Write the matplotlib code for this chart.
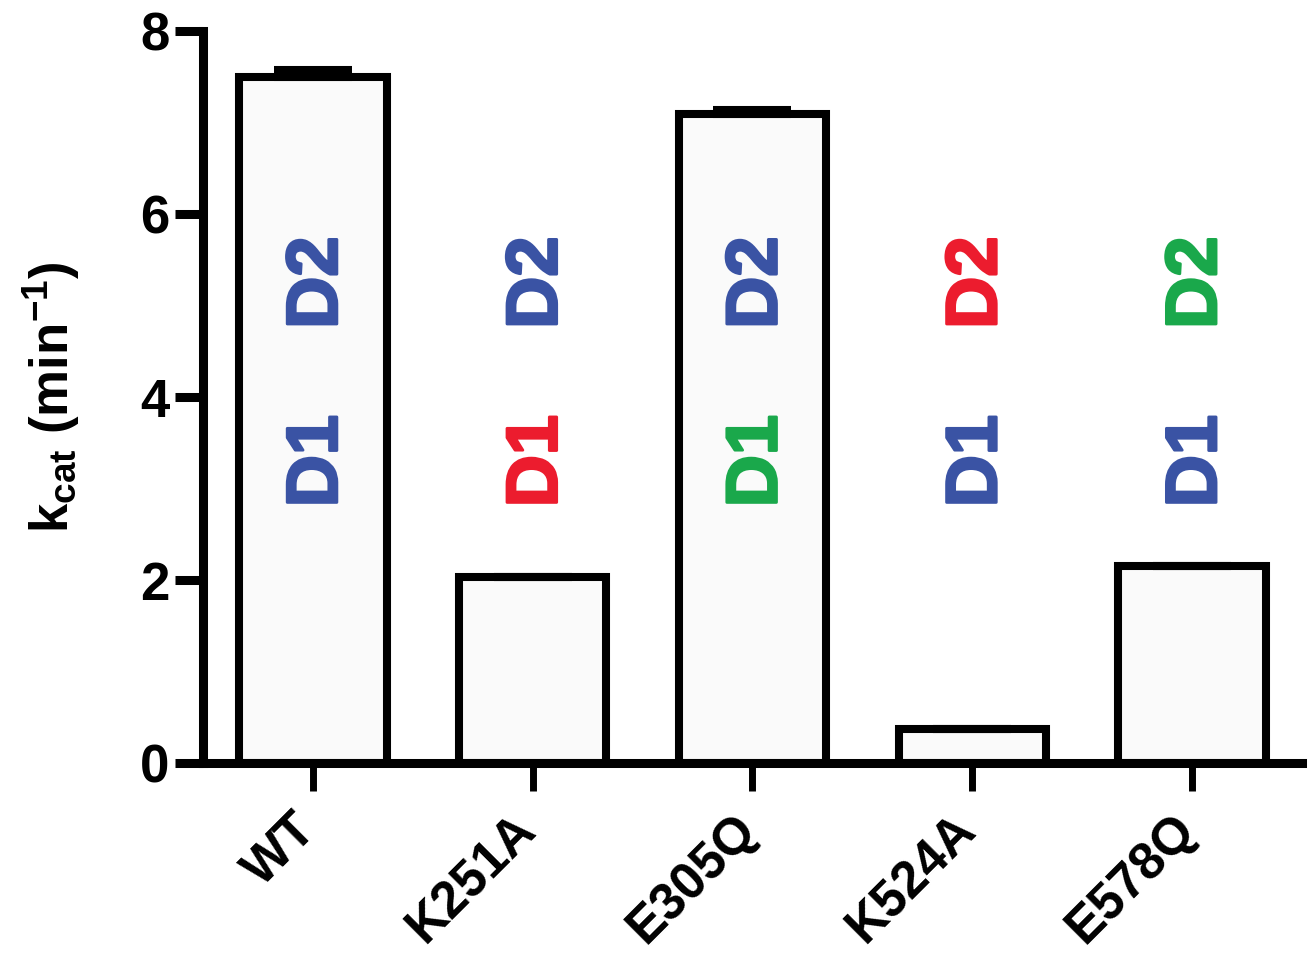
import matplotlib
matplotlib.use('Agg')
import matplotlib.pyplot as plt
import matplotlib.patheffects as pe
import matplotlib.transforms as mtransforms
import numpy as np

plt.rcParams['font.family'] = ['Liberation Sans', 'DejaVu Sans']
plt.rcParams['font.weight'] = 'bold'
plt.rcParams['mathtext.fontset'] = 'custom'
plt.rcParams['mathtext.rm'] = 'Liberation Sans:bold'
plt.rcParams['mathtext.bf'] = 'Liberation Sans:bold'
plt.rcParams['mathtext.it'] = 'Liberation Sans:bold'

# data
mutants = ['WT', 'K251A', 'E305Q', 'K524A', 'E578Q']
kcat = [7.50, 2.03, 7.09, 0.37, 2.15]
kcat_err = [0.07, 0.0, 0.05, 0.0, 0.0]

# D1 / D2 domain label colours per mutant
blue = '#3a53a4'
red = '#ec1c2e'
green = '#1aa84b'
d1_colors = [blue, red, green, blue, blue]
d2_colors = [blue, blue, blue, red, green]

fig = plt.figure(figsize=(13.13, 9.57), dpi=100)
ax = fig.add_axes([0.1546, 0.2027, 0.8370, 0.7649])

x = np.arange(len(mutants))
ax.bar(x, kcat, width=0.67, color='#fafafa', edgecolor='black', linewidth=5.8, zorder=2)
ax.errorbar(x, kcat, yerr=[np.zeros(len(kcat)), kcat_err], fmt='none', ecolor='black',
            elinewidth=5.8, capsize=28, capthick=5.8, zorder=3)

txt_shift = mtransforms.ScaledTranslation(5 / 100, 0, fig.dpi_scale_trans)
for i in range(len(mutants)):
    for label, yy, col in [('D1', 3.3, d1_colors[i]), ('D2', 5.25, d2_colors[i])]:
        ax.text(x[i], yy, label, rotation=90, ha='center', va='center', fontsize=52,
                fontweight='bold', color=col, zorder=4,
                transform=ax.transData + txt_shift,
                path_effects=[pe.withStroke(linewidth=2, foreground=col)])

ax.set_xlim(-0.5, 4.5)
ax.set_ylim(0, 8)
ax.set_yticks([0, 2, 4, 6, 8])
ax.set_xticks(x)
ax.set_xticklabels(mutants, rotation=45, ha='right', rotation_mode='anchor', fontsize=37,
                   fontweight='bold')
ax.tick_params(axis='y', labelsize=38, width=6.5, length=20, pad=4)
ax.tick_params(axis='x', width=5, length=20, pad=10)
shift = mtransforms.ScaledTranslation(-21 / 100, 0, fig.dpi_scale_trans)
for lbl in ax.get_xticklabels():
    lbl.set_transform(lbl.get_transform() + shift)

for s in ['top', 'right']:
    ax.spines[s].set_visible(False)
for s in ['left', 'bottom']:
    ax.spines[s].set_linewidth(6.5)

ax.set_ylabel(r'$\mathregular{k_{cat}}$ (min$^{\mathregular{-1}}$)', fontsize=38,
              fontweight='bold', labelpad=42)

fig.savefig('out.png', dpi=100)
